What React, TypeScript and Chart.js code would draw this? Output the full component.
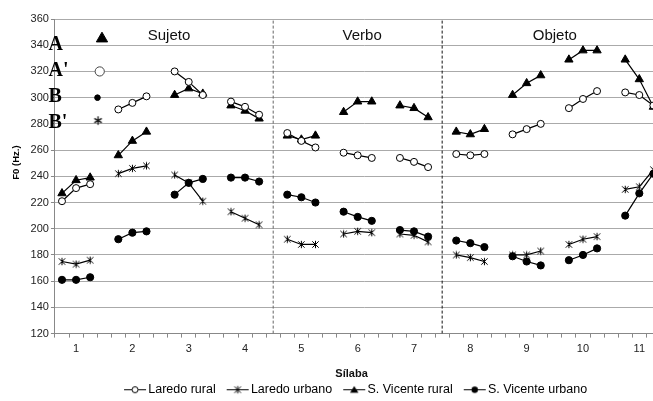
import React, { useEffect, useRef } from 'react';
import { Chart, registerables } from 'chart.js';

Chart.register(...registerables);

// ---------------- data ----------------
const syllables = [1, 2, 3, 4, 5, 6, 7, 8, 9, 10, 11];
const pointOffsets = [-0.25, 0, 0.25];
const yTickValues = [120, 140, 160, 180, 200, 220, 240, 260, 280, 300, 320, 340, 360];
const seriesNames = ['Laredo rural', 'Laredo urbano', 'S. Vicente rural', 'S. Vicente urbano'];

const laredoRural = [
  [221, 231, 234], [291, 296, 301], [320, 312, 302], [297, 293, 287],
  [273, 267, 262], [258, 256, 254], [254, 251, 247],
  [257, 256, 257], [272, 276, 280], [292, 299, 305], [304, 302, 294],
];
const laredoUrbano = [
  [175, 173, 176], [242, 246, 248], [241, 235, 221], [213, 208, 203],
  [192, 188, 188], [196, 198, 197], [196, 195, 190],
  [180, 178, 175], [180, 180, 183], [188, 192, 194], [230, 232, 245],
];
const sVicenteRural = [
  [227, 237, 239], [256, 267, 274], [302, 307, 303], [294, 290, 284],
  [271, 268, 271], [289, 297, 297], [294, 292, 285],
  [274, 272, 276], [302, 311, 317], [329, 336, 336], [329, 314, 293],
];
const sVicenteUrbano = [
  [161, 161, 163], [192, 197, 198], [226, 235, 238], [239, 239, 236],
  [226, 224, 220], [213, 209, 206], [199, 198, 194],
  [191, 189, 186], [179, 175, 172], [176, 180, 185], [210, 227, 242],
];

const sectionNames = ['Sujeto', 'Verbo', 'Objeto'];
const sectionCenters = [2.65, 6.08, 9.5];
const sectionLabelValue = 347.5;
const sectionBoundaries = [4.5, 7.5];
const groupLetters = ['A', "A'", 'B', "B'"];
const groupLetterValues = [340, 320, 300, 280];
const groupMarkerX = [1.46, 1.42, 1.38, 1.39];
const groupMarkerValues = [345, 320, 300, 282.5];

const X_MIN = 0.625;
const X_MAX = 11.625;

// ---------------- helpers ----------------
function toPoints(groups: number[][]) {
  const pts: { x: number; y: number | null }[] = [];
  groups.forEach((g, i) => {
    g.forEach((v, j) => pts.push({ x: syllables[i] + pointOffsets[j], y: v }));
    pts.push({ x: syllables[i] + 0.5, y: null });
  });
  return pts;
}

function makeCanvas(w: number, h: number, draw: (ctx: CanvasRenderingContext2D) => void) {
  const c = document.createElement('canvas');
  c.width = w;
  c.height = h;
  const ctx = c.getContext('2d') as CanvasRenderingContext2D;
  draw(ctx);
  return c;
}

function drawMarker(ctx: CanvasRenderingContext2D, kind: string, cx: number, cy: number) {
  ctx.strokeStyle = '#000';
  ctx.fillStyle = '#000';
  ctx.lineWidth = 1;
  if (kind === 'openCircle') {
    ctx.beginPath();
    ctx.arc(cx, cy, 3, 0, Math.PI * 2);
    ctx.fillStyle = '#fff';
    ctx.fill();
    ctx.stroke();
  } else if (kind === 'star') {
    const r = 3.2;
    ctx.beginPath();
    ctx.moveTo(cx - r, cy - r);
    ctx.lineTo(cx + r, cy + r);
    ctx.moveTo(cx + r, cy - r);
    ctx.lineTo(cx - r, cy + r);
    ctx.moveTo(cx, cy - r - 0.5);
    ctx.lineTo(cx, cy + r + 0.5);
    ctx.stroke();
  } else if (kind === 'triangle') {
    ctx.beginPath();
    ctx.moveTo(cx, cy - 3.8);
    ctx.lineTo(cx + 4.2, cy + 3);
    ctx.lineTo(cx - 4.2, cy + 3);
    ctx.closePath();
    ctx.fill();
  } else if (kind === 'dot') {
    ctx.beginPath();
    ctx.arc(cx, cy, 3.2, 0, Math.PI * 2);
    ctx.fill();
  }
}

const markerKinds = ['openCircle', 'star', 'triangle', 'dot'];

const annotationPlugin = {
  id: 'annotationText',
  afterDraw(chart: any) {
    const { ctx, scales } = chart;
    const x = scales.x;
    const y = scales.y;
    ctx.save();
    ctx.fillStyle = '#111';
    ctx.font = '15px "Liberation Sans", Arial, sans-serif';
    ctx.textAlign = 'center';
    ctx.textBaseline = 'middle';
    sectionNames.forEach((n, i) => {
      ctx.fillText(n, x.getPixelForValue(sectionCenters[i]), y.getPixelForValue(sectionLabelValue));
    });
    ctx.fillStyle = '#000';
    ctx.font = 'bold 20px "Liberation Serif", "Times New Roman", serif';
    ctx.textAlign = 'left';
    ctx.textBaseline = 'alphabetic';
    groupLetters.forEach((t, i) => {
      ctx.fillText(t, chart.chartArea.left - 6.5, y.getPixelForValue(groupLetterValues[i]) + 4.5);
    });
    ctx.font = 'bold 9.5px "Liberation Sans", Arial, sans-serif';
    ctx.textAlign = 'center';
    ctx.textBaseline = 'middle';
    ctx.translate(16, y.getPixelForValue(250.5));
    ctx.rotate(-Math.PI / 2);
    ctx.fillText('F0 (Hz.)', 0, 0);
    ctx.restore();
  },
};

export default function App() {
  const ref = useRef<HTMLCanvasElement>(null);

  useEffect(() => {
    const canvas = ref.current;
    if (!canvas) return;
    Chart.defaults.font.family = '"Liberation Sans", Arial, sans-serif';

    const starImg = makeCanvas(9, 9, (ctx) => drawMarker(ctx, 'star', 4.5, 4.5));
    const asteriskImg = makeCanvas(11, 11, (ctx) => {
      ctx.strokeStyle = '#111';
      ctx.lineWidth = 1.3;
      ctx.beginPath();
      const r = 4.3;
      [90, 30, 150].forEach((deg) => {
        const a = (deg * Math.PI) / 180;
        ctx.moveTo(5.5 - Math.cos(a) * r, 5.5 - Math.sin(a) * r);
        ctx.lineTo(5.5 + Math.cos(a) * r, 5.5 + Math.sin(a) * r);
      });
      ctx.stroke();
    });
    const legendImgs = markerKinds.map((k) =>
      makeCanvas(36, 11, (ctx) => {
        ctx.strokeStyle = '#000';
        ctx.lineWidth = 1;
        ctx.beginPath();
        ctx.moveTo(13, 5.5);
        ctx.lineTo(35, 5.5);
        ctx.stroke();
        drawMarker(ctx, k, 24, 5.5);
      })
    );

    const lineBase = {
      type: 'line',
      borderColor: '#000',
      borderWidth: 1.2,
      spanGaps: false,
      pointBorderColor: '#000',
      pointBorderWidth: 1,
      fill: false,
    };

    const xTicks: number[] = [];
    for (let k = 0; k <= 44; k++) xTicks.push(X_MIN + 0.25 * k);
    syllables.forEach((s) => xTicks.push(s));
    xTicks.sort((a, b) => a - b);

    const datasets: any[] = [
      { ...lineBase, label: seriesNames[0], data: toPoints(laredoRural), pointStyle: 'circle', pointRadius: 3.5, pointBackgroundColor: '#fff' },
      { ...lineBase, label: seriesNames[1], data: toPoints(laredoUrbano), pointStyle: starImg, pointRadius: 4 },
      { ...lineBase, label: seriesNames[2], data: toPoints(sVicenteRural), pointStyle: 'triangle', pointRadius: 4.8, pointBackgroundColor: '#000' },
      { ...lineBase, label: seriesNames[3], data: toPoints(sVicenteUrbano), pointStyle: 'circle', pointRadius: 3.6, pointBackgroundColor: '#000' },
      ...sectionBoundaries.map((b, i) => ({
        type: 'line',
        label: 'boundary' + i,
        data: [{ x: b, y: yTickValues[0] }, { x: b, y: yTickValues[yTickValues.length - 1] }],
        borderColor: i === 0 ? '#666' : '#111',
        borderWidth: 1,
        borderDash: [3, 2],
        pointRadius: 0,
      })),
      { type: 'line', label: 'mA', data: [{ x: groupMarkerX[0], y: groupMarkerValues[0] }], pointStyle: 'triangle', pointRadius: 6.5, pointBackgroundColor: '#000', pointBorderColor: '#000', showLine: false },
      { type: 'line', label: 'mA2', data: [{ x: groupMarkerX[1], y: groupMarkerValues[1] }], pointStyle: 'circle', pointRadius: 4.6, pointBackgroundColor: '#fff', pointBorderColor: '#444', pointBorderWidth: 1, showLine: false },
      { type: 'line', label: 'mB', data: [{ x: groupMarkerX[2], y: groupMarkerValues[2] }], pointStyle: 'circle', pointRadius: 2.8, pointBackgroundColor: '#000', pointBorderColor: '#000', showLine: false },
      { type: 'line', label: 'mB2', data: [{ x: groupMarkerX[3], y: groupMarkerValues[3] }], pointStyle: asteriskImg, pointRadius: 4, showLine: false },
    ];

    const chart = new Chart(canvas, {
      type: 'line',
      data: { datasets },
      options: {
        responsive: false,
        animation: false,
        devicePixelRatio: 1,
        layout: { padding: { top: 19, left: 28.6, right: 30.5, bottom: 0 } },
        scales: {
          x: {
            type: 'linear',
            min: X_MIN,
            max: X_MAX,
            afterBuildTicks: (axis: any) => {
              axis.ticks = xTicks.map((v) => ({ value: v }));
            },
            ticks: {
              autoSkip: false,
              maxRotation: 0,
              minRotation: 0,
              padding: 4.4,
              color: '#222',
              font: { size: 11 },
              callback: (v: any) => (Number.isInteger(v) ? String(v) : ''),
            },
            grid: {
              drawOnChartArea: false,
              tickLength: 4,
              tickColor: (ctx: any) => (ctx.tick && Number.isInteger(ctx.tick.value) ? 'rgba(0,0,0,0)' : '#888'),
            },
            border: { color: '#888' },
          },
          y: {
            type: 'linear',
            min: yTickValues[0],
            max: yTickValues[yTickValues.length - 1],
            afterBuildTicks: (axis: any) => {
              axis.ticks = yTickValues.map((v) => ({ value: v }));
            },
            ticks: { padding: 2, color: '#222', font: { size: 11 } },
            grid: { color: '#aaa', tickLength: 4, tickColor: '#888' },
            border: { color: '#888' },
          },
        },
        plugins: {
          tooltip: { enabled: false },
          title: {
            display: true,
            text: 'Sílaba',
            position: 'bottom',
            weight: 500,
            color: '#111',
            font: { size: 11, weight: 'bold' },
            padding: { top: 7.7, bottom: 0 },
          },
          legend: {
            position: 'bottom',
            labels: {
              usePointStyle: true,
              pointStyleWidth: 26,
              padding: 3,
              color: '#000',
              font: { size: 12.5 },
              generateLabels: () =>
                seriesNames.map((n, i) => ({
                  text: n,
                  pointStyle: legendImgs[i],
                  fillStyle: 'rgba(0,0,0,0)',
                  strokeStyle: 'rgba(0,0,0,0)',
                  lineWidth: 0,
                  hidden: false,
                  datasetIndex: i,
                  fontColor: '#000',
                })),
            },
          },
        },
      } as any,
      plugins: [annotationPlugin],
    } as any);

    return () => chart.destroy();
  }, []);

  return (
    <div style={{ position: 'fixed', left: 0, top: 0, width: 653, height: 401, overflow: 'hidden', background: '#fff' }}>
      <canvas ref={ref} width={705} height={406} style={{ display: 'block' }} />
    </div>
  );
}
